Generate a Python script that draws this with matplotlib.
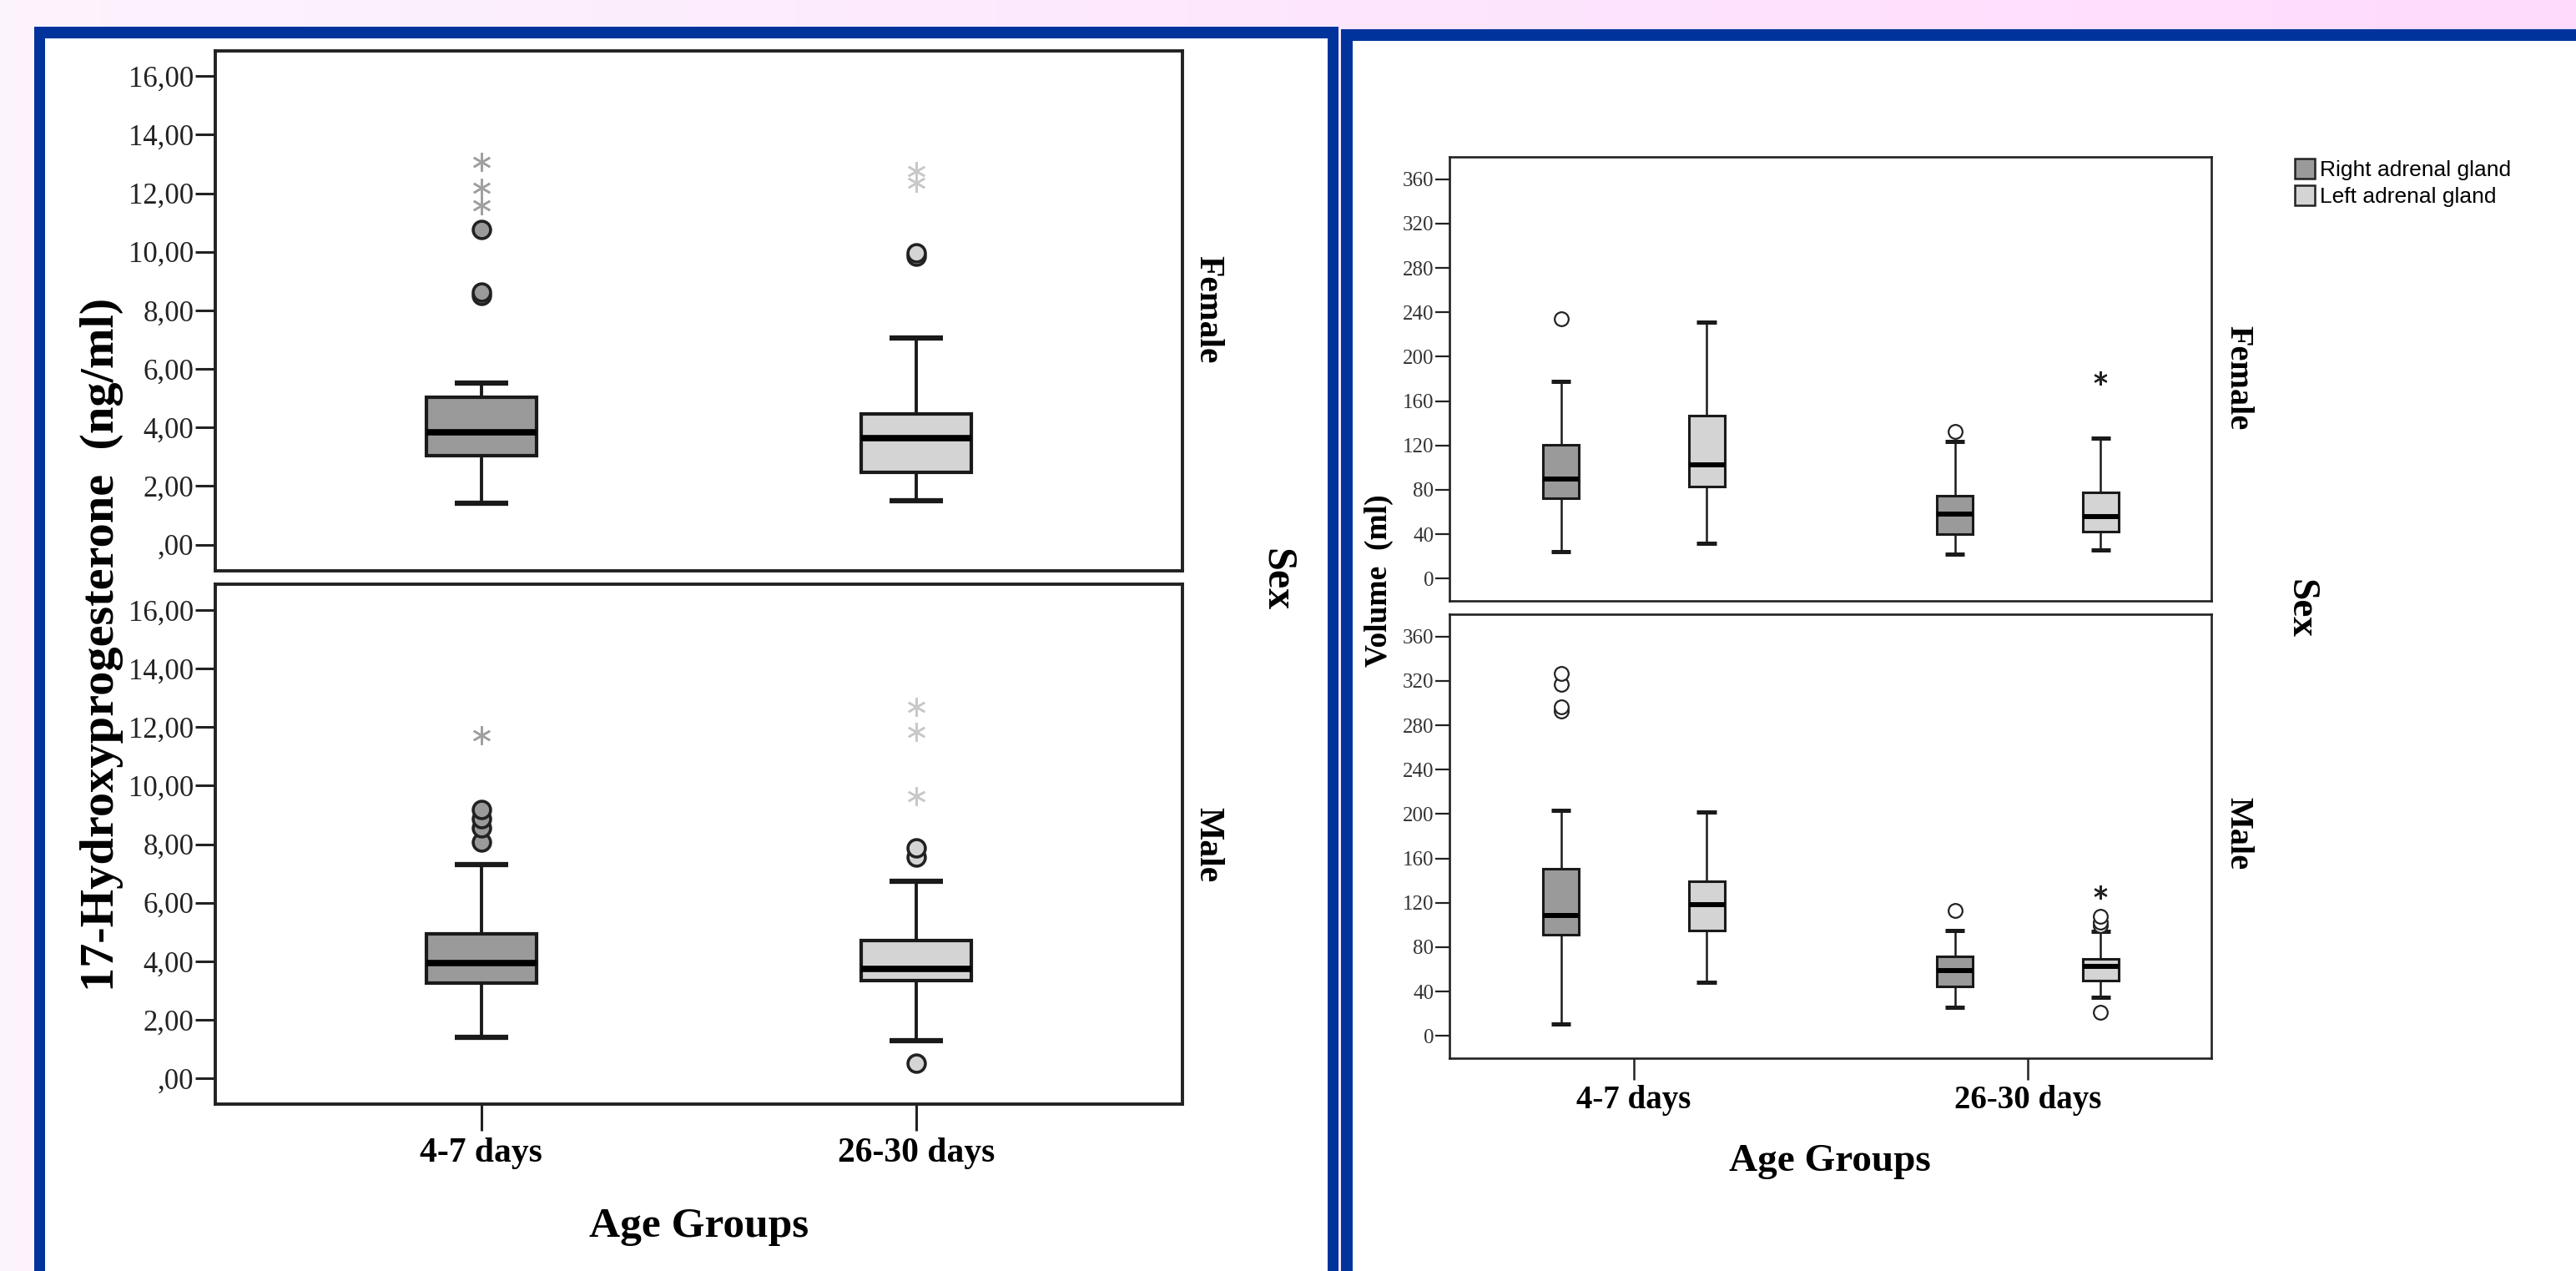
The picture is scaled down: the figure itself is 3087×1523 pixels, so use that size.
import numpy as np
import matplotlib
matplotlib.use("Agg")
import matplotlib.pyplot as plt
from matplotlib.patches import Rectangle, Patch

# ---------------- data ----------------
age_groups = ["4-7 days", "26-30 days"]
sexes = ["Female", "Male"]

# 17-OHP (ng/ml): [q1, median, q3, whisker low, whisker high]
ohp_female_stats = [[3.05, 3.83, 5.04, 1.42, 5.53], [2.48, 3.65, 4.47, 1.51, 7.06]]
ohp_male_stats = [[3.26, 3.94, 4.93, 1.40, 7.30], [3.33, 3.73, 4.72, 1.30, 6.74]]
ohp_female_circles = [[8.50, 8.62, 10.76], [9.85, 9.95]]
ohp_female_stars = [[11.60, 12.18, 13.06], [12.35, 12.75]]
ohp_male_circles = [[8.06, 8.57, 8.87, 9.18], [0.53, 7.55, 7.86]]
ohp_male_stars = [[11.72], [9.64, 11.83, 12.69]]
ohp_ticks = [0, 2, 4, 6, 8, 10, 12, 14, 16]
ohp_ticklabels = [",00", "2,00", "4,00", "6,00", "8,00", "10,00", "12,00", "14,00", "16,00"]

# Adrenal volume (ml): per age group -> [right gland, left gland]
glands = ["Right adrenal gland", "Left adrenal gland"]
vol_female_stats = [[[72.0, 89.8, 120.4, 23.9, 177.6], [82.9, 102.3, 146.9, 31.7, 231.0]],
                    [[40.3, 58.2, 74.3, 22.2, 123.8], [42.6, 56.1, 77.7, 25.4, 126.7]]]
vol_male_stats = [[[91.5, 108.7, 150.4, 10.8, 203.5], [94.9, 118.5, 139.0, 48.2, 201.9]],
                  [[44.8, 58.9, 71.7, 25.9, 94.9], [49.8, 62.3, 69.0, 34.7, 94.2]]]
vol_female_circles = [[[234.0], []], [[132.4], []]]
vol_female_stars = [[[], []], [[], [180.6]]]
vol_male_circles = [[[292.7, 296.8, 317.0, 327.0], []], [[112.7], [21.2, 99.3, 102.6, 107.7]]]
vol_male_stars = [[[], []], [[], [129.5]]]
vol_ticks = [0, 40, 80, 120, 160, 200, 240, 280, 320, 360]

# ---------------- figure ----------------
W, H = 3087, 1523
fig = plt.figure(figsize=(W / 100, H / 100), dpi=100)

def fx(x):
    return x / W

def fy(y):
    return 1 - y / H

def frame(x0, y0, x1, y1):
    return [fx(x0), fy(y1), fx(x1) - fx(x0), fy(y0) - fy(y1)]

# pink gradient background
bg = fig.add_axes([0, 0, 1, 1], zorder=-5)
grad = np.linspace(0, 1, 256)
c0 = np.array([252, 244, 253]) / 255
c1 = np.array([255, 218, 254]) / 255
img = (c0[None, :] * (1 - grad[:, None]) + c1[None, :] * grad[:, None])[None, :, :]
bg.imshow(img, aspect="auto", extent=[0, 1, 0, 1])
bg.set_axis_off()

BLUE = "#00349c"
for (x0, y0, x1) in [(41, 32, 1604), (1607, 35, 3200)]:
    fig.add_artist(Rectangle((fx(x0), 0), fx(x1) - fx(x0), fy(y0), transform=fig.transFigure,
                             facecolor=BLUE, edgecolor="none", zorder=-2))
fig.add_artist(Rectangle((fx(54), 0), fx(1591) - fx(54), fy(46), transform=fig.transFigure,
                         facecolor="white", edgecolor="none", zorder=-1))
fig.add_artist(Rectangle((fx(1621), 0), fx(3200) - fx(1621), fy(49), transform=fig.transFigure,
                         facecolor="white", edgecolor="none", zorder=-1))

SERIF = ["Liberation Serif", "DejaVu Serif"]
SANS = ["Liberation Sans", "DejaVu Sans"]
DARK = "#9a9a9a"
LIGHT = "#d4d4d4"
STAR_DARK = "#a0a0a0"
STAR_LIGHT = "#c8c8c8"
EDGE = "#1a1a1a"

def mkstats(s):
    return dict(q1=s[0], med=s[1], q3=s[2], whislo=s[3], whishi=s[4], fliers=[])

# ---------------- left: 17-OHP ----------------
axL_top = fig.add_axes(frame(258, 60.6, 1417, 683.5))
axL_bot = fig.add_axes(frame(258, 700.4, 1417, 1323))
box_cols = [DARK, LIGHT]
star_cols = [STAR_DARK, STAR_LIGHT]
for ax, stats, circ, stars in [(axL_top, ohp_female_stats, ohp_female_circles, ohp_female_stars),
                               (axL_bot, ohp_male_stats, ohp_male_circles, ohp_male_stars)]:
    for i in range(len(age_groups)):
        ax.bxp([mkstats(stats[i])], positions=[i], widths=0.253, capwidths=0.123,
               patch_artist=True, showfliers=False, manage_ticks=False,
               boxprops=dict(facecolor=box_cols[i], edgecolor=EDGE, linewidth=3.0),
               medianprops=dict(color="black", linewidth=5.5, solid_capstyle="butt"),
               whiskerprops=dict(color=EDGE, linewidth=2.8),
               capprops=dict(color=EDGE, linewidth=4.5, solid_capstyle="butt"))
        ax.plot([i] * len(circ[i]), circ[i], linestyle="none", marker="o", markersize=15,
                markerfacecolor=box_cols[i], markeredgecolor="#222222", markeredgewidth=2.6)
        ax.plot([i] * len(stars[i]), stars[i], linestyle="none", marker=(6, 2, 0), markersize=16,
                markeredgecolor=star_cols[i], markeredgewidth=1.8)
    ax.set_xlim(-0.611, 1.611)
    ax.set_ylim(-0.88, 16.87)
    ax.set_yticks(ohp_ticks)
    ax.set_yticklabels(ohp_ticklabels, fontsize=25, family=SERIF, color="#222222")
    ax.tick_params(axis="y", length=17, width=2.2, pad=1.5, color="#222222")
    for sp in ax.spines.values():
        sp.set_linewidth(2.8)
        sp.set_color("#222222")
axL_top.set_xticks([])
axL_bot.set_xticks([0, 1])
axL_bot.set_xticklabels(age_groups, fontsize=30, family=SERIF, fontweight="bold")
axL_bot.tick_params(axis="x", length=23, width=2.2, pad=6, color="#222222")

fig.text(fx(122), fy(772), "17-Hydroxyprogesterone  (ng/ml)", rotation=90, ha="center", va="center",
         fontsize=42, fontweight="bold", family=SERIF)
fig.text(fx(1447.5), fy(370.5), sexes[0], rotation=270, ha="center", va="center",
         fontsize=30, fontweight="bold", family=SERIF)
fig.text(fx(1447.5), fy(1012), sexes[1], rotation=270, ha="center", va="center",
         fontsize=30, fontweight="bold", family=SERIF)
fig.text(fx(1530), fy(695), "Sex", rotation=270, ha="center", va="center",
         fontsize=36, fontweight="bold", family=SERIF)
fig.text(fx(837.5), fy(1482), "Age Groups", ha="center", va="baseline",
         fontsize=37, fontweight="bold", family=SERIF)

# ---------------- right: adrenal volume ----------------
axR_top = fig.add_axes(frame(1737, 188, 2650, 720))
axR_bot = fig.add_axes(frame(1737, 736, 2650, 1268))
offsets = [-0.185, 0.185]
for ax, stats, circ, stars in [(axR_top, vol_female_stats, vol_female_circles, vol_female_stars),
                               (axR_bot, vol_male_stats, vol_male_circles, vol_male_stars)]:
    for i in range(len(age_groups)):
        for g in range(len(glands)):
            pos = i + offsets[g]
            ax.bxp([mkstats(stats[i][g])], positions=[pos], widths=0.092, capwidths=0.05,
                   patch_artist=True, showfliers=False, manage_ticks=False,
                   boxprops=dict(facecolor=box_cols[g], edgecolor=EDGE, linewidth=2.2),
                   medianprops=dict(color="black", linewidth=4.3, solid_capstyle="butt"),
                   whiskerprops=dict(color=EDGE, linewidth=1.8),
                   capprops=dict(color=EDGE, linewidth=3.6, solid_capstyle="butt"))
            ax.plot([pos] * len(circ[i][g]), circ[i][g], linestyle="none", marker="o", markersize=12,
                    markerfacecolor="white", markeredgecolor="#222222", markeredgewidth=1.6)
            ax.plot([pos] * len(stars[i][g]), stars[i][g], linestyle="none", marker=(6, 2, 0),
                    markersize=12, markeredgecolor="#222222", markeredgewidth=1.6)
    ax.set_xlim(-0.468, 1.466)
    ax.set_ylim(-20.2, 380.2)
    ax.set_yticks(vol_ticks)
    ax.set_yticklabels([str(t) for t in vol_ticks], fontsize=18, family=SERIF, color="#333333")
    ax.tick_params(axis="y", length=12, width=1.6, pad=1.5, color="#222222")
    for sp in ax.spines.values():
        sp.set_linewidth(1.9)
        sp.set_color("#222222")
axR_top.set_xticks([])
axR_bot.set_xticks([0, 1])
axR_bot.set_xticklabels(age_groups, fontsize=28, family=SERIF, fontweight="bold")
axR_bot.tick_params(axis="x", length=19, width=1.8, pad=4, color="#222222")

fig.text(fx(1652), fy(696), "Volume  (ml)", rotation=90, ha="center", va="center",
         fontsize=27, fontweight="bold", family=SERIF)
fig.text(fx(2682), fy(453), sexes[0], rotation=270, ha="center", va="center",
         fontsize=29, fontweight="bold", family=SERIF)
fig.text(fx(2682), fy(999), sexes[1], rotation=270, ha="center", va="center",
         fontsize=29, fontweight="bold", family=SERIF)
fig.text(fx(2756), fy(729), "Sex", rotation=270, ha="center", va="center",
         fontsize=34, fontweight="bold", family=SERIF)
fig.text(fx(2193), fy(1403), "Age Groups", ha="center", va="baseline",
         fontsize=34, fontweight="bold", family=SERIF)

handles = [Patch(facecolor=box_cols[g], edgecolor="#222222", linewidth=1.8) for g in range(len(glands))]
fig.legend(handles, glands, loc="upper left", bbox_to_anchor=(fx(2750), fy(190)),
           frameon=False, prop=dict(family=SANS, size=19), handlelength=0.9, handleheight=1.05,
           handletextpad=0.25, labelspacing=0.2, borderpad=0, borderaxespad=0)

fig.savefig("out.png", dpi=100)
